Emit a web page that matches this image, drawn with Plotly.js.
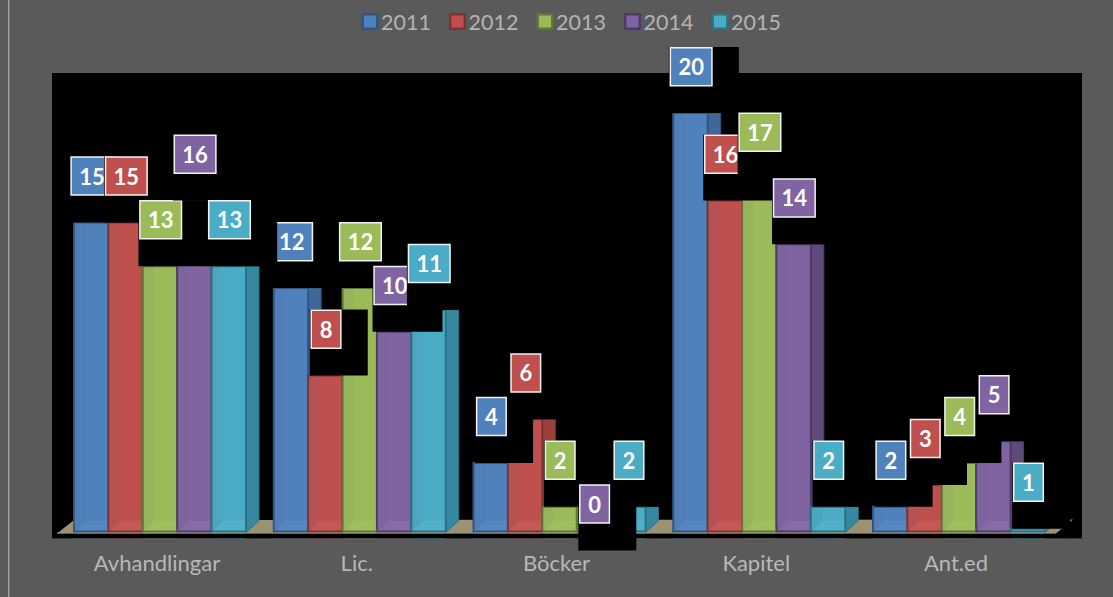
<!DOCTYPE html>
<html><head><meta charset="utf-8">
<script src="https://cdn.plot.ly/plotly-3.0.0.min.js"></script>
<style>html,body{margin:0;padding:0;background:#5a5a5a}#c{width:1113px;height:597px}</style>
</head><body><div id="c"></div>
<script>
// ---- data ----
var categories = ["Avhandlingar","Lic.","Böcker","Kapitel","Ant.ed"];
var years = ["2011","2012","2013","2014","2015"];
var s2011 = [15,12,4,20,2];
var s2012 = [15,8,6,16,3];
var s2013 = [13,12,2,17,4];
var s2014 = [16,10,0,14,5];
var s2015 = [13,11,2,2,1];
var seriesValues = [s2011,s2012,s2013,s2014,s2015];
var fills = ["#4f81bd","#c0504d","#9bbb59","#8064a2","#4bacc6"];
var edges = ["#2f5582","#7e3331","#5f7634","#4d3a69","#2b7286"];
var sides = ["#3f6797","#9a403e","#7c9647","#5f4a7c","#37889e"];
var panel = "#5a5a5a", floorColor = "#9a9270";

// ---- geometry helpers (pixel <-> axis) ----
var W=1113,H=597,plotBottom=551;
var pitch=199.75,c0=160,unitY=21.87,zeroY=550.5;
var dx=function(p){return p/pitch;};
var dy=function(p){return p/unitY;};
var xVal=function(p){return (p-c0)/pitch;};
var yVal=function(p){return (zeroY-p)/unitY;};
var idx=categories.map(function(_,i){return i;});
var barW=dx(34.4);
var floorFront=yVal(532.5), floorBack=yVal(520.5);
var depth=dx(13);
var xr=[xVal(0),xVal(W)], yr=[yVal(plotBottom),yVal(0)];
var px=function(p){return p/W;}, py=function(p){return 1-p/plotBottom;};

var traces=[];
// side faces, behind the fronts
seriesValues.forEach(function(vals,s){
  var X=[],Y=[];
  vals.forEach(function(v,i){
    var r=i+(s-2)*barW+barW/2;
    var t=Math.max(v,floorFront),t2=Math.max(v,floorBack);
    X.push(r,r+depth,r+depth,r,r,null);
    Y.push(t,t2,floorBack,floorFront,t,null);
  });
  traces.push({type:"scatter",mode:"lines",x:X,y:Y,fill:"toself",fillcolor:sides[s],
    line:{color:edges[s],width:1},showlegend:false,hoverinfo:"skip",xaxis:"x",yaxis:"y"});
});
// fronts
seriesValues.forEach(function(vals,s){
  traces.push({type:"bar",name:years[s],x:idx,y:vals,
    marker:{color:fills[s],line:{color:edges[s],width:2}},
    xaxis:"x2",yaxis:"y2",hoverinfo:"skip"});
});
// bevels on the fronts
seriesValues.forEach(function(vals,s){
  var X=[],Y=[],bX=[],bY=[],eX=[],eY=[];
  vals.forEach(function(v,i){
    var l=i+(s-2)*barW-barW/2, r=l+barW;
    if(v>floorFront){
      X.push(l,l+dx(11),l+dx(11),l,l,null);
      Y.push(v,v,yVal(521),floorFront,v,null);
      bX.push(l,r,r-dx(1),l+dx(11),l,null);
      bY.push(floorFront,floorFront,yVal(521),yVal(521),floorFront,null);
      eX.push(l,r,null);eY.push(yVal(531.5),yVal(531.5),null);
    }
  });
  traces.push({type:"scatter",mode:"lines",x:X,y:Y,fill:"toself",fillcolor:"rgba(110,110,140,0.10)",
    line:{width:0},showlegend:false,hoverinfo:"skip",xaxis:"x2",yaxis:"y2"});
  traces.push({type:"scatter",mode:"lines",x:bX,y:bY,fill:"toself",fillcolor:"rgba(255,255,255,0.05)",
    line:{width:0},showlegend:false,hoverinfo:"skip",xaxis:"x2",yaxis:"y2"});
  traces.push({type:"scatter",mode:"lines",x:eX,y:eY,line:{color:edges[s],width:2},
    showlegend:false,hoverinfo:"skip",xaxis:"x2",yaxis:"y2"});
});

// ---- shapes ----
var shapes=[
  {type:"rect",layer:"below",xref:"paper",yref:"paper",x0:px(8),x1:px(9.4),y0:py(0),y1:py(597),fillcolor:"#a2a2a2",line:{width:0}},
  {type:"rect",layer:"below",xref:"paper",yref:"paper",x0:px(52),x1:px(1082),y0:py(73),y1:py(538.5),fillcolor:"#000",line:{width:0}},
  {type:"path",layer:"below",xref:"paper",yref:"paper",
   path:"M"+px(57)+","+py(533.5)+"L"+px(74)+","+py(520)+"L"+px(1073)+","+py(519.5)+"L"+px(1056)+","+py(533.5)+"Z",
   fillcolor:floorColor,line:{width:0}},
  // front lip of the floor, and covers under it
  {type:"rect",layer:"above",xref:"paper",yref:"paper",x0:px(57),x1:px(1056),y0:py(532.6),y1:py(533.8),fillcolor:floorColor,line:{width:0}},
  {type:"rect",layer:"above",xref:"paper",yref:"paper",x0:px(52),x1:px(1082),y0:py(533.8),y1:py(538.5),fillcolor:"#000",line:{width:0}},
  {type:"rect",layer:"above",xref:"paper",yref:"paper",x0:px(52),x1:px(1082),y0:py(538.5),y1:py(551),fillcolor:panel,line:{width:0}}
];
// each series: for each category a black box ending at the bar top, then the value label
seriesValues.forEach(function(vals,s){
  vals.forEach(function(v,i){
    var two=String(v).length>1;
    var cx=i+(s-2)*barW+dx(0.7);
    var hw=dx(two?20.8:14.8);
    var cy=v+dy(46.4);
    shapes.push({type:"rect",layer:"above",xref:"x",yref:"y",
      x0:cx-hw-dx(1.5),x1:cx-hw-dx(1.5)+dx(two?70:58),y0:v,y1:v+dy(66),fillcolor:"#000",line:{width:0}});
    shapes.push({type:"rect",layer:"above",xref:"x",yref:"y",
      x0:cx-hw,x1:cx+hw,y0:cy-dy(19),y1:cy+dy(19),fillcolor:fills[s],line:{color:"#f2f2f2",width:1.5},
      label:{text:"<b>"+v+"</b>",textposition:"middle center",font:{family:"Lato, 'Open Sans', sans-serif",size:22,color:"#fff"}}});
  });
});

var layout={
  width:W,height:H,
  margin:{l:0,r:0,t:0,b:H-plotBottom,pad:0,autoexpand:false},
  paper_bgcolor:panel,plot_bgcolor:"rgba(0,0,0,0)",
  barmode:"group",bargap:1-5*barW,bargroupgap:0,
  showlegend:true,
  legend:{orientation:"h",x:px(346),xanchor:"left",y:1-1/plotBottom,yanchor:"top",
    font:{family:"Lato, sans-serif",size:21.5,color:"#b4b4b4"},bgcolor:"rgba(0,0,0,0)",
    entrywidth:42.5,entrywidthmode:"pixels",itemclick:false,itemdoubleclick:false,traceorder:"normal"},
  xaxis:{range:xr,tickmode:"array",tickvals:idx.map(function(i){return i-dx(3);}),ticktext:categories,
    showgrid:false,zeroline:false,showline:false,ticks:"",ticklabelstandoff:-3,
    tickfont:{family:"Lato, sans-serif",size:22,color:"#b8b8b8"},fixedrange:true},
  yaxis:{range:yr,visible:false,fixedrange:true},
  xaxis2:{range:xr,overlaying:"x",visible:false,fixedrange:true},
  yaxis2:{range:yr,overlaying:"y",visible:false,fixedrange:true},
  shapes:shapes
};
Plotly.newPlot("c",traces,layout,{displayModeBar:false,staticPlot:true}).then(function(gd){
  // larger legend swatches, set closer to their text
  gd.querySelectorAll(".legend .traces").forEach(function(t){
    t.querySelectorAll(".legendpoints path").forEach(function(p){
      p.setAttribute("transform","translate(24,0) scale(1.22)");
    });
    var txt=t.querySelector("text.legendtext");
    if(txt){txt.setAttribute("x",Number(txt.getAttribute("x"))-5);}
  });
});
</script>
</body></html>
